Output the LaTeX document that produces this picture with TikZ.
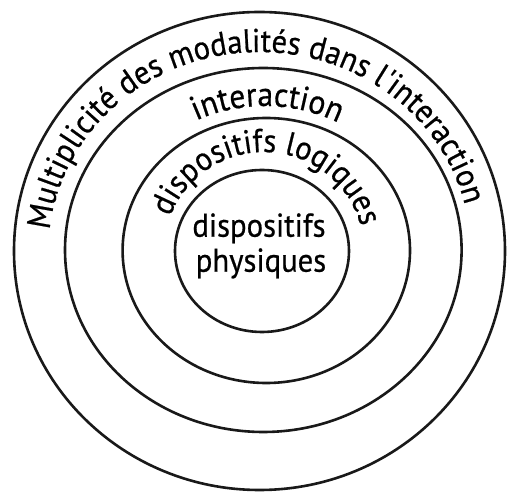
\documentclass[tikz,border=0pt]{standalone}
\usepackage{fontspec}
\setmainfont{PT Sans}
\newfontfamily\lblfont[FakeStretch=0.93,FakeBold=0.6]{PT Sans}
\usetikzlibrary{decorations.text}
\begin{document}
\begin{tikzpicture}[x=1pt,y=1pt,
  ring/.style={draw=black!90, line width=2.6pt},
  lbl/.style={font=\lblfont\fontsize{33}{33}\selectfont, inner sep=0pt},
  curvelbl/.style={decorate, decoration={text along path, text align=center, text={#1}}}
]
\useasboundingbox (0,0) rectangle (507,493);
% rings (centres in picture coordinates)
\coordinate (c1) at (259.5,242);
\coordinate (c2) at (263.3,243);
\coordinate (c3) at (266.3,242.5);
\coordinate (c4) at (262,242);
\draw[ring] (c1) ellipse [x radius=245.5, y radius=239];
\draw[ring] (c2) ellipse [x radius=198.3, y radius=182];
\draw[ring] (c3) ellipse [x radius=143.7, y radius=132.5];
\draw[ring] (c4) ellipse [x radius=87, y radius=81];
% curved labels
\path[curvelbl={|\lblfont\fontsize{33}{33}\selectfont|Multiplicité des modalités dans l'interaction}]
  (c1) ++(182.5:211 and 199) arc[start angle=182.5, end angle=4.8, x radius=211, y radius=199];
\path[curvelbl={|\lblfont\fontsize{34}{34}\selectfont|interaction}]
  (265,242) ++(180:157 and 145) arc[start angle=180, end angle=-2, x radius=157, y radius=145];
\path[curvelbl={|\lblfont\fontsize{33}{33}\selectfont|dispositifs logiques}]
  (264,242) ++(174:100 and 99) arc[start angle=174, end angle=0, x radius=100, y radius=99];
% centre label
\node[lbl, anchor=base] (l1) at (259,256.3) {dispositifs};
\node[lbl, anchor=base] (l2) at (261,221.3) {physiques};
\end{tikzpicture}
\end{document}
